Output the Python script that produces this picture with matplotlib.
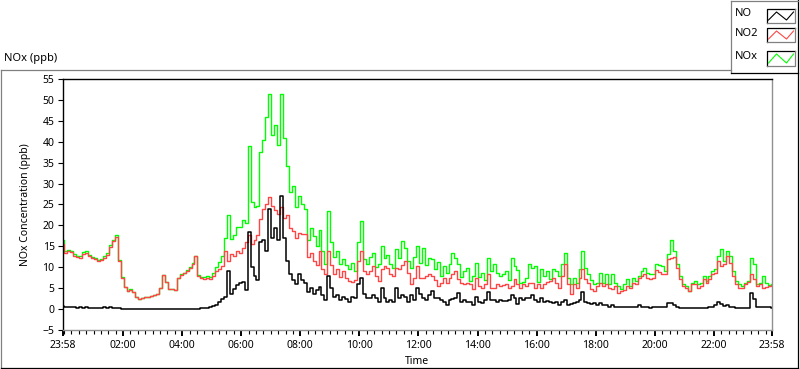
import numpy as np
import matplotlib
matplotlib.use("Agg")
import matplotlib.pyplot as plt
from matplotlib.lines import Line2D
from matplotlib.patches import Rectangle

plt.rcParams['font.family'] = ['Noto Sans', 'DejaVu Sans']

# samples every 6 minutes, starting 23:58
step_min = 6

no = [
    0.8, 0.5, 0.4, 0.6, 0.4, 0.3, 0.4, 0.3, 0.5, 0.3,
    0.3, 0.2, 0.3, 0.2, 0.5, 0.3, 0.4, 0.2, 0.3, 0.2,
    0.1, 0.1, 0.0, 0.1, 0.0, 0.0, 0.0, 0.0, 0.0, 0.0,
    0.0, 0.0, 0.0, 0.0, 0.0, 0.0, 0.0, 0.0, 0.0, 0.0,
    0.0, 0.0, 0.0, 0.0, 0.0, 0.1, 0.1, 0.2, 0.3, 0.3,
    0.5, 0.7, 1.0, 1.6, 2.5, 3.0, 9.0, 3.6, 4.8, 5.8,
    6.2, 6.5, 4.5, 18.5, 10.0, 7.8, 7.0, 16.0, 16.5, 14.0,
    24.0, 17.0, 19.5, 16.5, 27.0, 17.0, 11.5, 8.5, 7.0, 6.0,
    8.5, 7.0, 6.3, 4.0, 5.0, 3.6, 4.5, 5.2, 3.4, 2.2,
    7.9, 5.0, 2.8, 3.4, 2.2, 3.0, 2.4, 1.8, 3.0, 2.6,
    5.9, 7.5, 3.5, 2.6, 2.6, 3.4, 2.6, 1.8, 5.0, 2.6,
    1.8, 2.2, 1.8, 5.0, 2.6, 3.4, 3.0, 1.8, 3.4, 2.2,
    5.0, 3.5, 2.6, 2.2, 3.4, 4.3, 2.6, 2.6, 2.2, 1.8,
    1.0, 2.2, 2.4, 2.6, 3.8, 1.8, 2.2, 1.8, 1.6, 1.0,
    3.0, 1.8, 1.4, 2.2, 4.2, 2.2, 2.2, 1.8, 2.2, 1.9,
    2.0, 2.2, 3.4, 2.6, 1.2, 2.6, 2.2, 2.6, 2.6, 3.4,
    2.2, 1.8, 2.6, 1.8, 2.0, 1.6, 1.4, 1.8, 1.0, 1.8,
    2.2, 1.0, 1.2, 1.4, 1.8, 2.2, 4.2, 1.8, 1.4, 1.2,
    1.4, 1.0, 1.4, 0.9, 1.0, 0.6, 0.9, 0.6, 0.6, 0.4,
    0.6, 0.4, 0.5, 0.6, 0.6, 0.9, 0.6, 0.4, 0.4, 0.2,
    0.6, 0.6, 0.6, 0.6, 0.6, 1.4, 1.4, 1.0, 0.4, 0.2,
    0.2, 0.2, 0.2, 0.3, 0.2, 0.2, 0.2, 0.3, 0.2, 0.4,
    0.6, 1.0, 1.8, 1.2, 0.8, 1.0, 0.6, 0.4, 0.2, 0.2,
    0.2, 0.3, 0.2, 3.8, 2.5, 0.6, 0.5, 0.6, 0.5, 0.4, 0.3,
]

no2 = [
    15.5, 13.5, 13.8, 13.6, 12.8, 12.5, 12.3, 13.2, 13.5, 12.6,
    12.2, 11.9, 11.5, 11.8, 12.3, 13.0, 14.8, 16.3, 17.3, 11.5,
    7.5, 5.2, 4.3, 4.6, 4.0, 3.0, 2.5, 2.7, 2.9, 2.8,
    3.2, 3.4, 3.6, 5.0, 8.2, 6.5, 4.9, 4.9, 4.6, 7.4,
    8.2, 8.6, 9.2, 9.9, 10.8, 12.6, 8.0, 7.4, 7.3, 7.5,
    7.2, 8.0, 9.0, 9.7, 10.2, 14.0, 11.5, 13.1, 12.8, 13.9,
    13.5, 14.7, 16.0, 17.6, 15.5, 16.5, 17.6, 21.5, 24.0, 25.0,
    26.7, 24.6, 23.8, 22.8, 24.3, 21.8, 22.6, 19.4, 18.7, 17.1,
    18.2, 17.9, 18.0, 12.5, 13.5, 11.5, 10.5, 14.0, 9.5, 8.3,
    13.8, 10.5, 8.5, 9.5, 7.6, 9.0, 7.5, 6.7, 6.5, 7.0,
    11.5, 13.8, 9.0, 8.3, 9.2, 10.3, 7.8, 6.8, 9.5, 10.3,
    9.9, 8.3, 7.9, 9.9, 9.5, 10.5, 11.5, 8.7, 5.9, 7.5,
    10.3, 7.5, 7.5, 8.0, 8.3, 7.9, 7.0, 5.6, 6.3, 7.5,
    6.3, 7.5, 8.5, 9.1, 7.1, 6.3, 5.9, 6.3, 6.0, 4.7,
    7.5, 5.5, 5.1, 6.0, 8.3, 5.1, 5.1, 5.9, 5.5, 5.8,
    5.9, 5.1, 5.5, 7.1, 5.9, 5.1, 5.9, 5.5, 6.3, 6.3,
    5.1, 5.9, 5.1, 6.0, 6.5, 6.8, 7.5, 6.3, 5.1, 8.0,
    10.7, 5.9, 3.5, 5.9, 5.1, 7.5, 9.5, 7.1, 6.3, 4.7,
    4.3, 5.5, 6.3, 5.5, 5.9, 5.1, 4.7, 5.5, 3.9, 4.3,
    4.6, 5.5, 5.1, 6.3, 5.9, 7.5, 7.9, 8.3, 7.5, 7.1,
    7.5, 9.3, 8.8, 8.5, 8.3, 12.0, 12.3, 12.5, 9.9, 7.1,
    5.5, 5.1, 4.3, 5.9, 5.9, 5.1, 5.5, 7.1, 6.3, 7.1,
    8.3, 8.7, 11.5, 10.3, 10.8, 12.7, 11.1, 8.0, 5.9, 5.1,
    5.1, 5.9, 6.5, 8.3, 7.1, 5.5, 5.9, 5.1, 5.3, 5.5, 5.7,
]

nox = [
    16.5, 14.0, 14.2, 14.0, 13.2, 12.8, 12.7, 13.6, 14.0, 12.9,
    12.5, 12.1, 11.8, 12.0, 12.8, 13.4, 15.2, 16.5, 17.8, 11.7,
    7.6, 5.3, 4.3, 4.7, 4.0, 3.0, 2.5, 2.7, 2.9, 2.8,
    3.2, 3.4, 3.6, 5.0, 8.2, 6.5, 4.9, 4.9, 4.6, 7.5,
    8.3, 8.7, 9.3, 10.0, 11.0, 12.8, 8.2, 7.6, 7.6, 7.8,
    7.7, 8.7, 10.0, 11.3, 12.7, 17.0, 22.5, 16.7, 17.6, 19.7,
    19.7, 21.2, 20.5, 39.0, 25.5, 24.3, 24.6, 37.5, 40.5, 46.0,
    51.5, 41.6, 44.0, 39.3, 51.3, 41.0, 34.1, 27.9, 29.5, 24.5,
    27.0, 25.2, 24.0, 16.5, 19.5, 17.5, 15.0, 19.0, 14.0, 10.8,
    23.5, 16.0, 12.5, 14.0, 10.8, 12.0, 10.5, 9.5, 11.0, 9.2,
    16.0, 21.0, 12.0, 10.8, 12.5, 13.5, 10.0, 10.8, 15.0, 12.3,
    13.0, 10.7, 9.9, 14.3, 12.3, 16.3, 14.5, 11.5, 9.9, 12.5,
    15.1, 11.0, 14.5, 10.5, 12.1, 12.0, 9.5, 11.2, 8.0, 10.3,
    8.7, 10.7, 13.5, 12.3, 10.7, 7.6, 9.1, 9.9, 6.8, 7.9,
    11.1, 7.6, 8.7, 7.0, 12.3, 9.0, 10.7, 8.7, 7.9, 8.3,
    9.1, 7.0, 12.3, 10.3, 9.3, 6.3, 6.4, 7.5, 10.7, 9.9,
    10.3, 6.5, 9.5, 8.0, 9.1, 7.1, 9.5, 9.1, 7.9, 10.7,
    13.5, 7.5, 5.9, 7.5, 6.3, 9.5, 13.9, 9.9, 8.3, 7.0,
    5.9, 6.3, 8.7, 6.3, 8.3, 5.9, 8.3, 6.3, 5.5, 4.7,
    5.9, 7.1, 5.5, 7.5, 6.7, 7.9, 9.1, 9.9, 8.7, 8.3,
    8.5, 10.8, 10.5, 10.3, 9.0, 13.1, 16.5, 14.0, 10.7, 8.0,
    6.0, 5.5, 4.4, 6.3, 6.7, 5.9, 6.3, 7.9, 6.7, 7.9,
    9.1, 9.5, 12.7, 14.3, 11.5, 13.9, 12.7, 9.0, 6.7, 5.9,
    5.5, 6.3, 6.7, 12.3, 10.7, 5.9, 6.3, 7.9, 6.3, 5.8, 6.0,
]

# x-axis ticks, minutes after 23:58
major_min = [0, 122, 242, 362, 482, 602, 722, 842, 962, 1082, 1202, 1322, 1440]
major_lbl = ['23:58', '02:00', '04:00', '06:00', '08:00', '10:00', '12:00',
             '14:00', '16:00', '18:00', '20:00', '22:00', '23:58']
minor_min = [m for m in range(2, 1440, 15) if m not in major_min]

series_names = ['NO', 'NO2', 'NOx']
series_cols = ['#000000', '#ff4646', '#00ff00']

W, H = 800, 369
fig = plt.figure(figsize=(W / 100, H / 100), dpi=100)
fig.patch.set_facecolor('white')


def fx(px):
    return px / W


def fy(py):
    return 1 - py / H


ax = fig.add_axes([fx(63), fy(330), fx(772) - fx(63), fy(79) - fy(330)])

t = np.arange(len(no)) * step_min
# stepped traces, like the instrument's waveform chart
ax.plot(t, nox, color=series_cols[2], lw=1.0, drawstyle='steps-mid')
ax.plot(t, no2, color=series_cols[1], lw=1.0, drawstyle='steps-mid')
ax.plot(t, no, color=series_cols[0], lw=1.1, drawstyle='steps-mid')

ax.set_xlim(0, 1440)
ax.set_ylim(-5, 55)
ax.set_yticks(range(-5, 56, 5))
ax.set_xticks(major_min)
ax.set_xticklabels(major_lbl)
ax.set_xticks(minor_min, minor=True)

ax.tick_params(axis='y', direction='out', length=3.6, width=0.8, pad=2.5,
               labelsize=7.5, colors='black')
ax.tick_params(axis='x', which='major', direction='out', length=4.5, width=1.4,
               pad=3.0, labelsize=7.5)
ax.tick_params(axis='x', which='minor', direction='out', length=2.6, width=0.8)

for s in ['top', 'left']:
    ax.spines[s].set_color('black')
    ax.spines[s].set_linewidth(1.0)
for s in ['right', 'bottom']:
    ax.spines[s].set_color('#909090')
    ax.spines[s].set_linewidth(1.0)

ax.set_ylabel('NOx Concentration (ppb)', fontsize=7.5)
ax.yaxis.set_label_coords(-0.045, 0.5)
ax.set_xlabel('Time', fontsize=7.5)
ax.xaxis.set_label_coords(0.5, -0.125)
ax.xaxis.label.set_va('center')

fig.text(fx(4), fy(59), 'NOx (ppb)', fontsize=8, va='center', ha='left')

# outer panel frame
gray = '#808080'
frame = [
    ((0.5, 69.5), (730.5, 69.5), gray),
    ((0.5, 69.5), (0.5, 367.5), gray),
    ((0.5, 367.5), (797.5, 367.5), 'black'),
    ((797.5, 0.0), (797.5, 367.5), 'black'),
    ((730.5, 0.5), (730.5, 72.5), gray),
    ((730.5, 0.5), (797.5, 0.5), gray),
    ((730.5, 72.5), (797.5, 72.5), 'black'),
]
for (x0, y0), (x1, y1), c in frame:
    fig.add_artist(Line2D([fx(x0), fx(x1)], [fy(y0), fy(y1)], color=c, lw=0.9))

# legend entries
legend_rows = [(9, 23), (28, 42), (51, 66)]
for name, col, (ytop, ybot) in zip(series_names, series_cols, legend_rows):
    yc = (ytop + ybot) / 2
    fig.text(fx(735), fy(yc - 2), name, fontsize=8, va='center', ha='left')
    x0, x1 = 767, 795
    fig.add_artist(Rectangle((fx(x0), fy(ybot)), fx(x1) - fx(x0), fy(ytop) - fy(ybot),
                             transform=fig.transFigure, facecolor='white', edgecolor='none'))
    fig.add_artist(Line2D([fx(x0), fx(x0), fx(x1)], [fy(ybot), fy(ytop), fy(ytop)],
                          color='black', lw=0.9))
    fig.add_artist(Line2D([fx(x0), fx(x1), fx(x1)], [fy(ybot), fy(ybot), fy(ytop)],
                          color=gray, lw=0.9))
    zx = [x0 + 1.5, x0 + 9.5, x0 + 19.5, x1 - 1.5]
    zy = [ybot - 3, ytop + 3, ybot - 3, ytop + 3]
    fig.add_artist(Line2D([fx(v) for v in zx], [fy(v) for v in zy], color=col, lw=0.8))

fig.savefig('out.png', dpi=100, facecolor='white')
